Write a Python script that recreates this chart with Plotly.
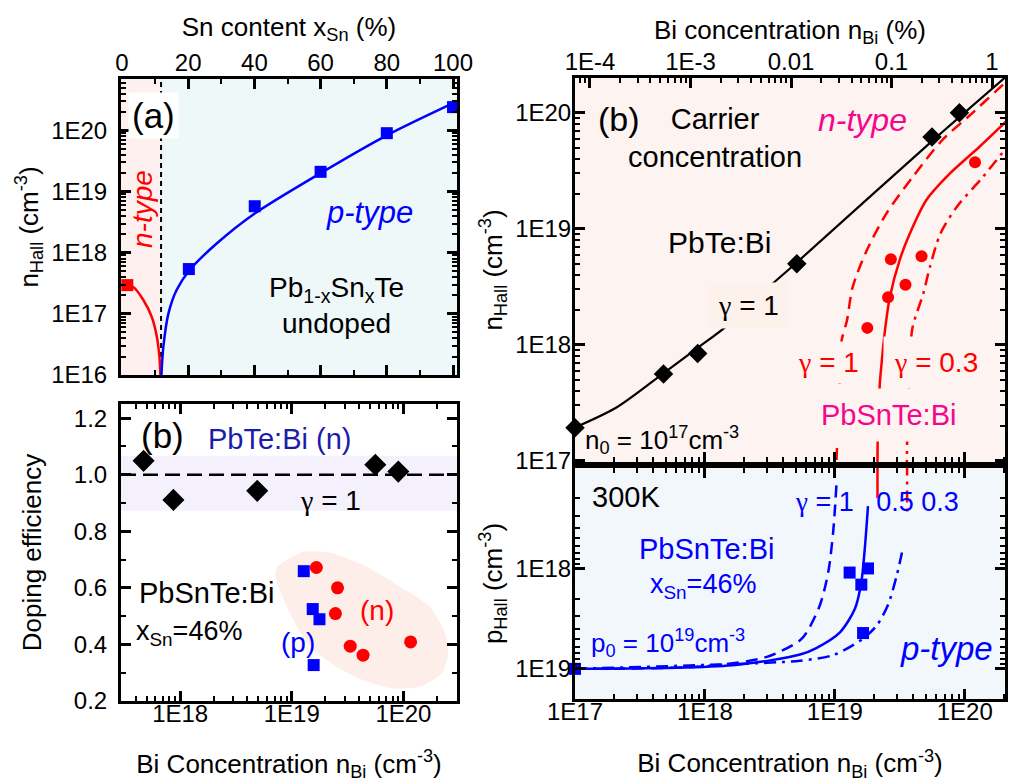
import plotly.graph_objects as go

W, H = 1027, 782
FONT = "Liberation Sans, Arial, Helvetica, sans-serif"
GFONT = "Liberation Serif"

BLUE = "#0000ff"
RED = "#ff0000"
MAGENTA = "#f5068c"
NAVY = "#1c1ca8"

# ---------------- (a) undoped Pb1-xSnxTe ----------------
a_n_x = [1.6]
a_n_y = [2.95e17]
a_p_x = [20.2, 40.1, 60.0, 80.0, 100.0]
a_p_y = [5.4e17, 5.75e18, 2.1e19, 9.0e19, 2.4e20]
a_fit_n_x = [0.4, 3.4, 6.4, 9.0, 10.5, 11.3, 11.6]
a_fit_n_y = [2.95e17, 2.75e17, 1.7e17, 8.9e16, 4.3e16, 2.0e16, 1.0e16]
a_fit_p_x = [11.9, 12.5, 14.0, 16.5, 20.5, 28.6, 40.1, 60.0, 80.0, 101.0]
a_fit_p_y = [1.0e16, 2.9e16, 1.0e17, 2.45e17, 5.25e17, 1.41e18, 4.37e18, 2.0e19, 8.3e19, 2.95e20]
a_np_boundary = 11.8
a_x_range = [-0.3, 101.2]
a_y_ticks = [1e16, 1e17, 1e18, 1e19, 1e20]
a_y_text = ["1E16", "1E17", "1E18", "1E19", "1E20"]

# ---------------- (b) doping efficiency ----------------
eff_pbte_x = [4.7e17, 8.7e17, 4.9e18, 5.6e19, 9.0e19]
eff_pbte_y = [1.049, 0.911, 0.943, 1.035, 1.011]
eff_p_x = [1.28e19, 1.54e19, 1.77e19, 1.57e19]
eff_p_y = [0.659, 0.525, 0.489, 0.327]
eff_n_x = [1.66e19, 2.57e19, 2.46e19, 3.34e19, 4.35e19, 1.16e20]
eff_n_y = [0.672, 0.600, 0.509, 0.394, 0.362, 0.409]
eff_band = [0.873, 1.067]
eff_gamma = 1.0
blob_x = [7.41e18, 1.28e19, 2.22e19, 4.71e19, 9.33e19, 1.73e20, 2.36e20, 2.52e20, 2.2e20,
          1.41e20, 8.15e19, 4.4e19, 2.54e19, 1.57e19, 1.12e19, 8.49e18, 7.14e18, 7.41e18]
blob_y = [0.675, 0.728, 0.724, 0.675, 0.604, 0.533, 0.439, 0.368, 0.297,
          0.250, 0.244, 0.273, 0.320, 0.380, 0.462, 0.557, 0.639, 0.675]
eff_x_ticks = [1e18, 1e19, 1e20]
eff_x_text = ["1E18", "1E19", "1E20"]

# ---------------- (b) carrier concentration, n-type ----------------
pbte_x = [1.0e17, 4.8e17, 8.8e17, 5.1e18, 5.6e19, 9.1e19]
pbte_y = [1.93e17, 5.6e17, 8.4e17, 5.0e18, 6.2e19, 1.0e20]
pbte_fit_x = [1.0e17, 2.1e17, 4.9e17, 8.9e17, 1.47e18, 3.26e18, 5.07e18, 5.6e19, 2.03e20]
pbte_fit_y = [1.94e17, 2.9e17, 5.8e17, 9.5e17, 1.45e18, 3.3e18, 5.1e18, 5.7e19, 2.0e20]
sn_n_x = [1.78e19, 2.7e19, 2.57e19, 3.5e19, 4.65e19, 1.2e20]
sn_n_y = [1.4e18, 5.46e18, 2.57e18, 3.3e18, 5.8e18, 3.74e19]
n_g1_x = [1.02e19, 1.03e19, 1.07e19, 1.1e19, 1.13e19, 1.24e19, 1.37e19, 1.76e19, 2.5e19, 3.98e19, 6.7e19, 1.15e20, 2.09e20]
n_g1_y = [7e16, 1.0e17, 3e17, 6e17, 1.1e18, 1.62e18, 3.13e18, 6.5e18, 1.36e19, 2.8e19, 5.8e19, 1.0e20, 1.86e20]
n_g05_x = [2.13e19, 2.14e19, 2.22e19, 2.29e19, 2.43e19, 2.65e19, 3.16e19, 3.78e19, 5.07e19, 7.7e19, 1.3e20, 2.24e20]
n_g05_y = [8e16, 1.58e17, 4.6e17, 6.9e17, 1.32e18, 2.57e18, 5.4e18, 9.1e18, 1.77e19, 3.0e19, 5.1e19, 9.1e19]
n_g03_x = [3.58e19, 3.6e19, 3.75e19, 3.95e19, 4.8e19, 5.4e19, 6.5e19, 8.7e19, 1.38e20, 2.09e20]
n_g03_y = [8e16, 1.4e17, 5e17, 1.38e18, 2.77e18, 4.7e18, 9.1e18, 1.55e19, 2.8e19, 5.0e19]
n_y_ticks = [1e17, 1e18, 1e19, 1e20]
n_y_text = ["1E17", "1E18", "1E19", "1E20"]
pct_ticks = [1e-4, 1e-3, 1e-2, 1e-1, 1]
pct_text = ["1E-4", "1E-3", "0.01", "0.1", "1"]

# ---------------- (b) carrier concentration, p-type ----------------
sn_p_x = [1.0e17, 1.3e19, 1.8e19, 1.6e19, 1.65e19]
sn_p_y = [1.0e19, 1.1e18, 1.0e18, 1.45e18, 4.4e18]
p_g1_x = [1e17, 1.02e18, 3.0e18, 5.4e18, 6.1e18, 7.7e18, 8.9e18, 9.7e18, 1.03e19]
p_g1_y = [1.0e19, 9.4e18, 7.6e18, 5.2e18, 4.3e18, 2.3e18, 1.09e18, 4.4e17, 1.45e17]
p_g05_x = [1e17, 1.64e18, 5.4e18, 7.2e18, 1.1e19, 1.43e19, 1.6e19, 1.7e19, 1.8e19]
p_g05_y = [1.0e19, 9.2e18, 7.2e18, 6.2e18, 4.3e18, 2.5e18, 1.37e18, 6.4e17, 2.4e17]
p_g03_x = [1e17, 3.0e18, 5.4e18, 9.7e18, 1.65e19, 2.1e19, 2.57e19, 3.0e19, 3.35e19]
p_g03_y = [1.0e19, 8.7e18, 8.3e18, 7.3e18, 5.0e18, 3.7e18, 2.3e18, 1.17e18, 6.2e17]
n_g05_tail_x = [2.13e19, 2.13e19]
n_g05_tail_y = [9e16, 2.0e17]
n_g03_tail_x = [3.6e19, 3.6e19]
n_g03_tail_y = [9e16, 2.8e17]
cm_x_ticks = [1e17, 1e18, 1e19, 1e20]
cm_x_text = ["1E17", "1E18", "1E19", "1E20"]
p_y_ticks = [1e18, 1e19]
p_y_text = ["1E18", "1E19"]


def dx(a, b):
    return [a / W, b / W]


def dy(top, bottom):
    return [1 - bottom / H, 1 - top / H]


def g(s):
    return s.replace("γ", '<span style="font-family:%s">γ</span>' % GFONT)


fig = go.Figure()


def line(x, y, color, dash="solid", xa="x", ya="y", width=2.5):
    fig.add_trace(go.Scatter(x=x, y=y, mode="lines", xaxis=xa, yaxis=ya,
                             line=dict(color=color, width=width, dash=dash, shape="spline", smoothing=0.8),
                             hoverinfo="skip", showlegend=False))


def pts(x, y, color, symbol, size, xa, ya):
    fig.add_trace(go.Scatter(x=x, y=y, mode="markers", xaxis=xa, yaxis=ya, cliponaxis=False,
                             marker=dict(color=color, symbol=symbol, size=size, line=dict(width=0)),
                             showlegend=False))


DASH = "12px,7px"
DASHDOT = "12px,6px,3px,6px"

# panel (a)
line(a_fit_n_x, a_fit_n_y, RED, xa="x", ya="y")
line(a_fit_p_x, a_fit_p_y, BLUE, xa="x", ya="y")
pts(a_n_x, a_n_y, RED, "square", 12, "x", "y")
pts(a_p_x, a_p_y, BLUE, "square", 12, "x", "y")

# panel (b) efficiency
fig.add_trace(go.Scatter(x=blob_x, y=blob_y, xaxis="x2", yaxis="y2", mode="lines", fill="toself",
                         fillcolor="#fdeee9", line=dict(width=0, color="#fdeee9", shape="spline", smoothing=0.6),
                         hoverinfo="skip", showlegend=False))
pts(eff_pbte_x, eff_pbte_y, "black", "diamond", 17, "x2", "y2")
pts(eff_p_x, eff_p_y, BLUE, "square", 12, "x2", "y2")
pts(eff_n_x, eff_n_y, RED, "circle", 13, "x2", "y2")

# panel (b) n-type
line(pbte_fit_x, pbte_fit_y, "black", xa="x3", ya="y3", width=2.2)
line(n_g1_x, n_g1_y, RED, DASH, "x3", "y3")
line(n_g05_x, n_g05_y, RED, "solid", "x3", "y3")
line(n_g03_x, n_g03_y, RED, DASHDOT, "x3", "y3")
pts(pbte_x, pbte_y, "black", "diamond", 15, "x3", "y3")
pts(sn_n_x, sn_n_y, RED, "circle", 12, "x3", "y3")
fig.add_trace(go.Scatter(x=[], y=[], xaxis="x4", yaxis="y3", showlegend=False))

# panel (b) p-type
line(p_g1_x, p_g1_y, BLUE, DASH, "x5", "y5")
line(p_g05_x, p_g05_y, BLUE, "solid", "x5", "y5")
line(p_g03_x, p_g03_y, BLUE, DASHDOT, "x5", "y5")
fig.add_trace(go.Scatter(x=n_g05_tail_x, y=n_g05_tail_y, xaxis="x5", yaxis="y5", mode="lines",
                         line=dict(color=RED, width=2.5), showlegend=False, hoverinfo="skip"))
fig.add_trace(go.Scatter(x=n_g03_tail_x, y=n_g03_tail_y, xaxis="x5", yaxis="y5", mode="lines",
                         line=dict(color=RED, width=2.5, dash=DASHDOT), showlegend=False, hoverinfo="skip"))
pts(sn_p_x, sn_p_y, BLUE, "square", 12, "x5", "y5")

TF = dict(size=24, color="black", family=FONT)
TITLEF = dict(size=26, color="black", family=FONT)
MINOR_LOG = dict(ticks="inside", ticklen=5, tickwidth=2, tickcolor="black", dtick="D1", showgrid=False)


def axstyle(**kw):
    d = dict(showline=True, linewidth=3, linecolor="black", ticks="inside", ticklen=10, tickwidth=2.5,
             tickcolor="black", showgrid=False, zeroline=False, tickfont=TF, mirror="ticks",
             automargin=False, ticklabelstandoff=6)
    d.update(kw)
    return d


TOP_SO = -5
BOT_SO = -11

layout_axes = dict(
    xaxis=axstyle(domain=dx(121, 457), anchor="y", side="top", range=a_x_range, dtick=20, tick0=0,
                  ticklabelstandoff=TOP_SO,
                  minor=dict(ticks="inside", ticklen=5, tickwidth=2, tickcolor="black", dtick=10),
                  title=dict(text="Sn content x<sub>Sn</sub> (%)", font=TITLEF, standoff=6)),
    yaxis=axstyle(domain=dy(79, 375), anchor="x", type="log", range=[16, 20.84],
                  tickvals=a_y_ticks, ticktext=a_y_text, minor=MINOR_LOG,
                  title=dict(text="n<sub>Hall</sub> (cm<sup>-3</sup>)", font=TITLEF, standoff=6)),
    xaxis2=axstyle(domain=dx(121, 457), anchor="y2", type="log", range=[17.47, 20.48],
                   tickvals=eff_x_ticks, ticktext=eff_x_text, minor=MINOR_LOG, ticklabelstandoff=BOT_SO,
                   title=dict(text="Bi Concentration n<sub>Bi</sub> (cm<sup>-3</sup>)", font=TITLEF, standoff=33)),
    yaxis2=axstyle(domain=dy(404, 701), anchor="x2", range=[0.2, 1.25], dtick=0.2, tick0=0.2,
                   tickformat=".1f",
                   minor=dict(ticks="inside", ticklen=5, tickwidth=2, tickcolor="black", dtick=0.1),
                   title=dict(text="Doping efficiency", font=TITLEF, standoff=25)),
    xaxis3=axstyle(domain=dx(575, 1005), anchor="y3", type="log", range=[17, 20.31],
                   showticklabels=False, mirror=False, tickvals=cm_x_ticks, minor=MINOR_LOG),
    xaxis4=axstyle(overlaying="x3", anchor="y3", side="top", type="log", range=[-4.149, 0.129],
                   tickvals=pct_ticks, ticktext=pct_text, minor=MINOR_LOG, mirror=False,
                   ticklabelstandoff=TOP_SO,
                   title=dict(text="Bi concentration n<sub>Bi</sub> (%)", font=TITLEF, standoff=0)),
    yaxis3=axstyle(domain=dy(78, 462), anchor="x3", type="log", range=[16.99, 20.3],
                   tickvals=n_y_ticks, ticktext=n_y_text, minor=MINOR_LOG, ticklabelstandoff=-4,
                   title=dict(text="n<sub>Hall</sub> (cm<sup>-3</sup>)", font=TITLEF, standoff=6)),
    xaxis5=axstyle(domain=dx(575, 1005), anchor="y5", type="log", range=[17, 20.31],
                   tickvals=cm_x_ticks, ticktext=cm_x_text, minor=MINOR_LOG, ticklabelstandoff=BOT_SO,
                   title=dict(text="Bi Concentration n<sub>Bi</sub> (cm<sup>-3</sup>)", font=TITLEF, standoff=31)),
    yaxis5=axstyle(domain=dy(468, 699), anchor="x5", type="log", range=[19.3, 17.0],
                   tickvals=p_y_ticks, ticktext=p_y_text, minor=MINOR_LOG, ticklabelstandoff=-4,
                   title=dict(text="p<sub>Hall</sub> (cm<sup>-3</sup>)", font=TITLEF, standoff=6)),
)

shapes = [
    dict(type="rect", xref="x", yref="y domain", x0=a_x_range[0], x1=a_np_boundary, y0=0, y1=1,
         fillcolor="#fdf0ee", line=dict(width=0), layer="below"),
    dict(type="rect", xref="x", yref="y domain", x0=a_np_boundary, x1=a_x_range[1], y0=0, y1=1,
         fillcolor="#eff8f8", line=dict(width=0), layer="below"),
    dict(type="line", xref="x", yref="y domain", x0=a_np_boundary, x1=a_np_boundary, y0=0, y1=1,
         line=dict(color="black", width=2, dash="5px,4px"), layer="below"),
    dict(type="rect", xref="x2 domain", yref="y2", x0=0, x1=1, y0=eff_band[0], y1=eff_band[1],
         fillcolor="#f4f1fc", line=dict(width=0), layer="below"),
    dict(type="line", xref="x2 domain", yref="y2", x0=0, x1=1, y0=eff_gamma, y1=eff_gamma,
         line=dict(color="black", width=2.5, dash="15px,7px"), layer="below"),
    dict(type="rect", xref="x3 domain", yref="y3 domain", x0=0, x1=1, y0=0, y1=1,
         fillcolor="#fdf3f0", line=dict(width=0), layer="below"),
    dict(type="rect", xref="x5 domain", yref="y5 domain", x0=0, x1=1, y0=0, y1=1,
         fillcolor="#f2f7fb", line=dict(width=0), layer="below"),
]


def ann(text, px, py, size=29, color="black", bg=None, pad=1, angle=0, italic=False):
    text = g(text)
    if italic:
        text = "<i>" + text + "</i>"
    d = dict(text=text, x=px / W, y=1 - py / H, xref="paper", yref="paper", showarrow=False,
             xanchor="center", yanchor="middle", font=dict(size=size, color=color, family=FONT),
             textangle=angle, borderpad=pad)
    if bg:
        d["bgcolor"] = bg
    return d


annotations = [
    # panel (a)
    ann("(a)", 153, 115, 35, bg="white", pad=3),
    ann("n-type", 142, 209, 28, RED, angle=-90, italic=True),
    ann("p-type", 369, 212, 31, BLUE, italic=True),
    ann("Pb<sub>1-x</sub>Sn<sub>x</sub>Te<br>undoped", 336, 306, 28),
    # panel (b) efficiency
    ann("(b)", 162, 435, 35),
    ann("PbTe:Bi (n)", 279, 439, 29, NAVY),
    ann("γ = 1", 330, 500, 28),
    ann("PbSnTe:Bi", 206, 593, 29),
    ann("x<sub>Sn</sub>=46%", 189, 633, 27),
    ann("(p)", 298, 642, 28, BLUE),
    ann("(n)", 377, 610, 28, RED),
    # panel (b) n-type
    ann("(b)", 619, 119, 34),
    ann("Carrier<br>concentration", 715, 138, 29),
    ann("n-type", 862, 120, 32, MAGENTA, italic=True),
    ann("PbTe:Bi", 719, 242, 30),
    ann("γ = 1", 748, 305, 28, bg="#fcf1eb", pad=7),
    ann("n<sub>0</sub> = 10<sup>17</sup>cm<sup>-3</sup>", 662, 440, 26),
    ann("γ = 1", 828, 362, 28, RED, bg="#fdf3f0", pad=5),
    ann("γ = 0.3", 936, 362, 28, RED, bg="#fdf3f0", pad=10),
    ann("PbSnTe:Bi", 888, 415, 29, MAGENTA, bg="#fdf3f0", pad=10),
    # panel (b) p-type
    ann("300K", 626, 497, 29),
    ann("γ = 1   0.5 0.3", 877, 502, 27, BLUE),
    ann("PbSnTe:Bi", 706, 549, 29, BLUE),
    ann("x<sub>Sn</sub>=46%", 703, 586, 27, BLUE),
    ann("p<sub>0</sub> = 10<sup>19</sup>cm<sup>-3</sup>", 668, 643, 26, BLUE),
    ann("p-type", 946, 648, 33, BLUE, italic=True),
]

fig.update_layout(
    width=W, height=H, margin=dict(l=0, r=0, t=0, b=0, autoexpand=False),
    paper_bgcolor="white", plot_bgcolor="white",
    font=dict(family=FONT, color="black"),
    showlegend=False, shapes=shapes, annotations=annotations,
    **layout_axes,
)

fig.write_html("out.html", config={"displayModeBar": False},
               post_script="document.body.style.margin='0';document.body.style.overflow='hidden';")
